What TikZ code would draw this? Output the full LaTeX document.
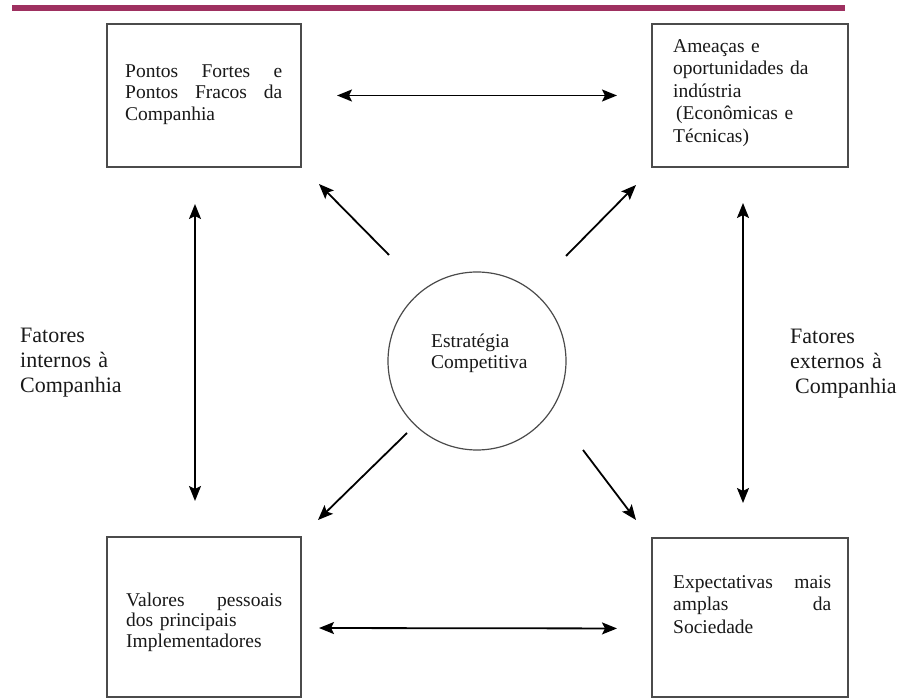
\documentclass[tikz,border=0pt]{standalone}
\usepackage{fontspec}
\setmainfont{Liberation Serif}
\usetikzlibrary{arrows.meta}
\definecolor{barcol}{RGB}{158,48,96}
\definecolor{boxcol}{RGB}{75,75,75}
\definecolor{txtcol}{RGB}{25,25,25}
\begin{document}
\begin{tikzpicture}[x=1pt,y=-1pt,
  box/.style={draw=boxcol,line width=1.8pt,rectangle,inner sep=0pt,outer sep=0pt},
  blocktext/.style={anchor=north west,inner sep=0pt,text width=175pt,align=left,text=txtcol,
    font=\fontsize{19.5}{21.5}\selectfont},
  sidetext/.style={anchor=north west,inner sep=0pt,text width=110pt,align=left,text=txtcol,
    font=\fontsize{22}{25}\selectfont},
  arr/.style={line width=1.8pt,-{Stealth[length=15pt,width=12pt,inset=3pt]}},
  dbl/.style={line width=1.8pt,{Stealth[length=15pt,width=12pt,inset=3pt]}-{Stealth[length=15pt,width=12pt,inset=3pt]}}
]
\useasboundingbox (0,0) rectangle (898,700);
\fill[white] (0,0) rectangle (898,700);
% top bar
\fill[barcol] (12,5) rectangle (845,11);

% boxes
\node[box,minimum width=194pt,minimum height=143pt] (tl) at (204,95.5) {};
\node[box,minimum width=196pt,minimum height=143pt] (tr) at (750,95.5) {};
\node[box,minimum width=194pt,minimum height=160pt] (bl) at (204,617) {};
\node[box,minimum width=196pt,minimum height=159pt] (br) at (750,617.5) {};
\node[draw=boxcol,line width=1.2pt,circle,minimum size=178pt,inner sep=0pt,outer sep=0pt] (c) at (477,361) {};

% texts
\node[blocktext] (tltext) at (125,62) {\strut\makebox[157pt][l]{Pontos\hfill Fortes\hfill e}\\
  \makebox[157pt][l]{Pontos\hfill Fracos\hfill da}\\Companhia};
\node[blocktext,font=\fontsize{19.5}{22.5}\selectfont] (trtext) at (673,36.3) {\strut Ameaças e\\oportunidades da\\indústria\\\hspace*{3pt}(Econômicas e\\Técnicas)};
\node[blocktext,font=\fontsize{19.5}{20.5}\selectfont] (bltext) at (126,591.7) {\strut\makebox[156pt][l]{Valores\hfill pessoais}\\dos principais\\Implementadores};
\node[blocktext,font=\fontsize{19.5}{22.5}\selectfont] (brtext) at (673,572.3) {\strut\makebox[158pt][l]{Expectativas\hfill mais}\\
  \makebox[158pt][l]{amplas\hfill da}\\Sociedade};
\node[blocktext,font=\fontsize{19.5}{21}\selectfont] (ctext) at (431,332.3) {\strut Estratégia\\Competitiva};
\node[sidetext] (ltext) at (20,324.5) {\strut Fatores\\internos à\\Companhia};
\node[sidetext] (rtext) at (790,325.5) {\strut Fatores\\externos à\\\hspace*{5pt}Companhia};

% horizontal and vertical double arrows
\draw[dbl,shorten <=36pt,shorten >=35pt] (tl.east) -- (tr.west);
\draw[dbl,shorten <=18pt,shorten >=35pt] ([yshift=-11pt]bl.east) -- ([yshift=-11pt]br.west);
\draw[dbl,shorten <=37pt,shorten >=36pt] ([xshift=-9pt]tl.south) -- ([xshift=-9pt]bl.north);
\draw[dbl,shorten <=36pt,shorten >=35pt] ([xshift=-7pt]tr.south) -- ([xshift=-7pt]br.north);

% diagonal arrows from the circle
\coordinate (d1a) at (389,255); \coordinate (d1b) at (319,184);
\coordinate (d2a) at (566,256); \coordinate (d2b) at (636,185);
\coordinate (d3a) at (407,433); \coordinate (d3b) at (318,520);
\coordinate (d4a) at (583,450); \coordinate (d4b) at (636,520);
\draw[arr] (d1a) -- (d1b);
\draw[arr] (d2a) -- (d2b);
\draw[arr] (d3a) -- (d3b);
\draw[arr] (d4a) -- (d4b);
\end{tikzpicture}
\end{document}
